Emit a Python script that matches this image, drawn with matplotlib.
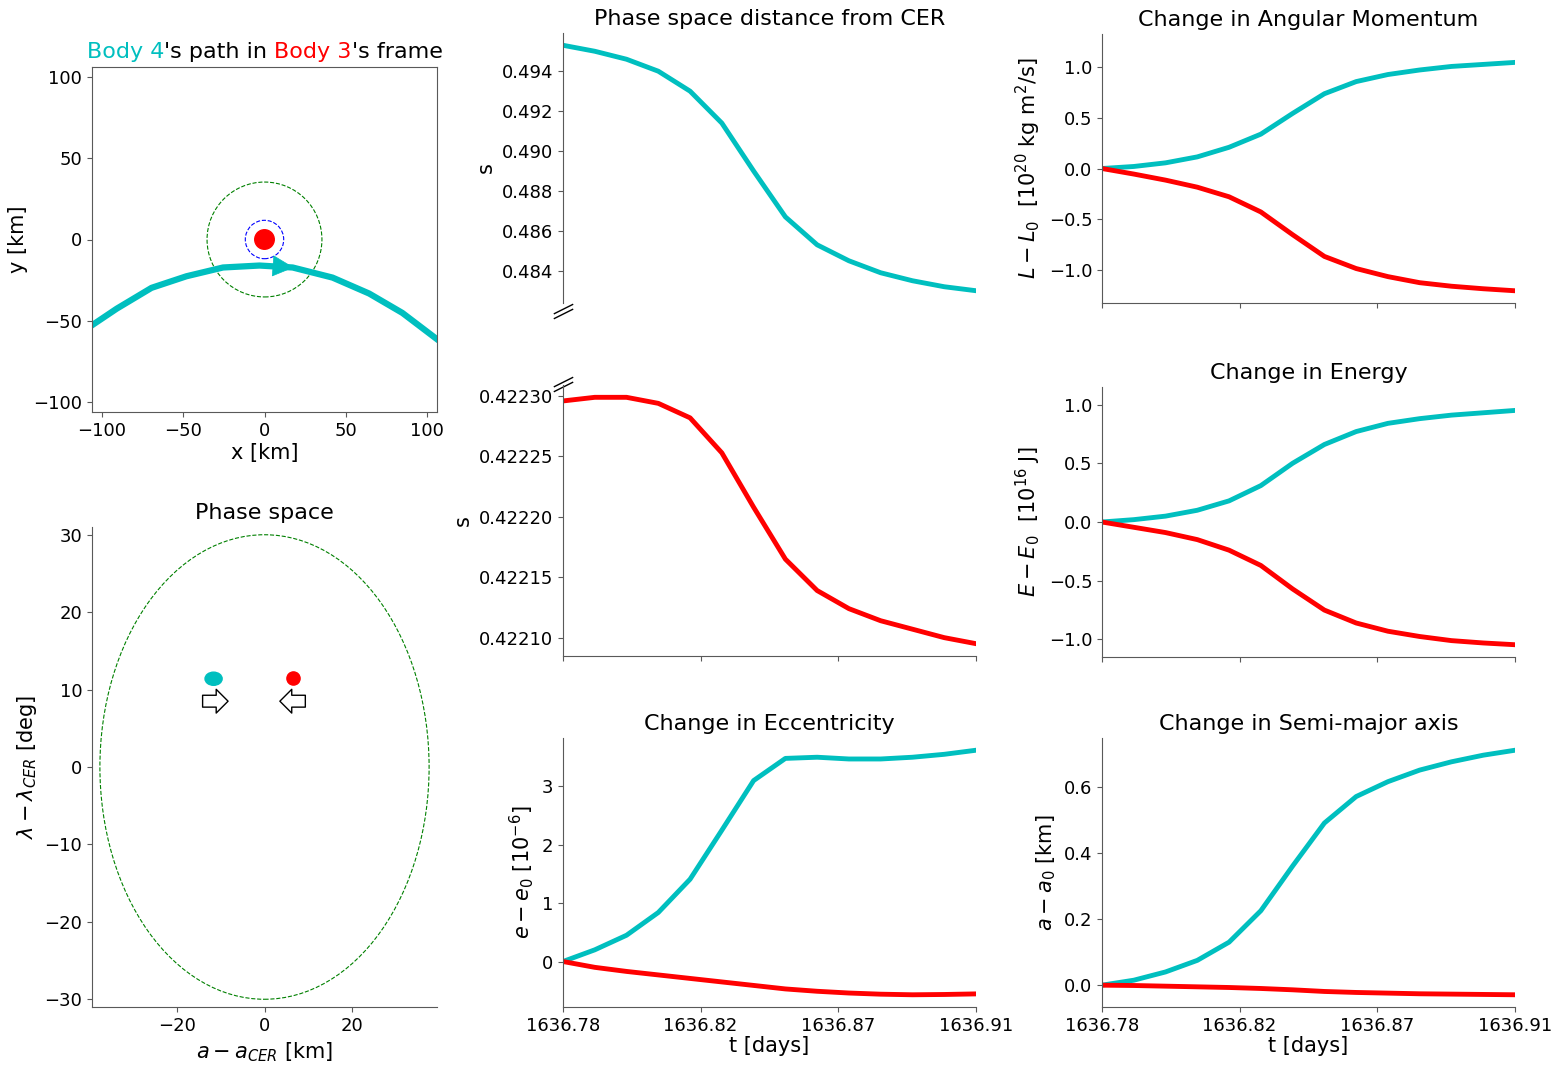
import numpy as np
import matplotlib
matplotlib.use('Agg')
import matplotlib.pyplot as plt
from matplotlib.patches import Circle, Ellipse
from matplotlib.path import Path

# ---- data ----
# body 4 path in body 3's frame [km]
path_x = [-106, -90.8, -69.4, -48.0, -25.5, -3.1, 17.3, 41.8, 64.3, 84.7, 105.5]
path_y = [-52.7, -42.5, -29.7, -22.6, -17.2, -16.0, -17.2, -23.4, -33.2, -45.1, -60.9]
r_body = 6.0
r_blue = 11.8
r_green = 35.3

# phase space positions (a - a_CER [km], lambda - lambda_CER [deg])
cer_half_a = 37.5
cer_half_lam = 30.0
body4_pos = (-11.6, 11.4)
body3_pos = (6.4, 11.5)

# time series
t = [1636.78, 1636.79, 1636.80, 1636.81, 1636.82, 1636.83, 1636.84,
     1636.85, 1636.86, 1636.87, 1636.88, 1636.89, 1636.90, 1636.91]
t_ticks = [1636.78, 1636.8233, 1636.8667, 1636.91]
t_labels = ['1636.78', '1636.82', '1636.87', '1636.91']

s4 = [0.4953, 0.4950, 0.4946, 0.4940, 0.4930, 0.4914, 0.4890,
      0.4867, 0.4853, 0.4845, 0.4839, 0.4835, 0.4832, 0.4830]
s3 = [0.422296, 0.422299, 0.422299, 0.422294, 0.422282, 0.422253, 0.422208,
      0.422165, 0.422139, 0.422124, 0.422114, 0.422107, 0.422100, 0.422095]

dL4 = [0, 0.02, 0.056, 0.115, 0.21, 0.34, 0.545, 0.74, 0.86, 0.93, 0.975, 1.01, 1.03, 1.05]
dL3 = [0, -0.055, -0.115, -0.185, -0.28, -0.43, -0.655, -0.87, -0.99, -1.07, -1.13, -1.165, -1.19, -1.21]

dE4 = [0, 0.02, 0.05, 0.10, 0.18, 0.31, 0.50, 0.66, 0.77, 0.84, 0.88, 0.91, 0.93, 0.95]
dE3 = [0, -0.045, -0.09, -0.15, -0.24, -0.37, -0.57, -0.75, -0.86, -0.93, -0.975, -1.01, -1.03, -1.045]

de4 = [0, 0.2, 0.45, 0.84, 1.41, 2.25, 3.1, 3.48, 3.5, 3.47, 3.47, 3.5, 3.55, 3.62]
de3 = [0, -0.1, -0.17, -0.23, -0.29, -0.35, -0.41, -0.47, -0.51, -0.54, -0.56, -0.57, -0.565, -0.555]

da4 = [0, 0.015, 0.04, 0.075, 0.13, 0.225, 0.36, 0.49, 0.57, 0.615, 0.65, 0.675, 0.695, 0.71]
da3 = [0, -0.001, -0.003, -0.005, -0.007, -0.01, -0.014, -0.019, -0.022, -0.024, -0.026, -0.027, -0.028, -0.029]

C4 = 'c'
C3 = 'r'
LW = 3.5

plt.rcParams['xtick.labelsize'] = 13
plt.rcParams['ytick.labelsize'] = 13
plt.rcParams['axes.labelsize'] = 15
plt.rcParams['axes.titlesize'] = 16
plt.rcParams['axes.edgecolor'] = '0.35'
plt.rcParams['xtick.color'] = '0.35'
plt.rcParams['ytick.color'] = '0.35'
plt.rcParams['xtick.labelcolor'] = 'k'
plt.rcParams['ytick.labelcolor'] = 'k'

W, H = 1565, 1089
fig = plt.figure(figsize=(W / 100, H / 100), dpi=100)


def px_axes(x0, y0, x1, y1):
    return fig.add_axes([x0 / W, 1 - y1 / H, (x1 - x0) / W, (y1 - y0) / H])


def open_spines(ax):
    ax.spines['top'].set_visible(False)
    ax.spines['right'].set_visible(False)


# ---- Body 4's path in Body 3's frame ----
ax = px_axes(92, 67, 437, 412)
ax_path = ax
ax.plot(path_x, path_y, color=C4, lw=LW + 1)
ax.annotate('', xy=(18, -17.2), xytext=(5, -16.2),
            arrowprops=dict(arrowstyle='-|>', color=C4, lw=0.5, mutation_scale=36,
                            shrinkA=0, shrinkB=0))
ax.add_patch(Circle((0, 0), r_body, color=C3))
ax.add_patch(Circle((0, 0), r_blue, fill=False, ls='--', ec='b', lw=0.8))
ax.add_patch(Circle((0, 0), r_green, fill=False, ls='--', ec='g', lw=0.8))
ax.set_xlim(-106, 106)
ax.set_ylim(-106, 106)
ax.set_xticks([-100, -50, 0, 50, 100])
ax.set_yticks([-100, -50, 0, 50, 100])
ax.set_xlabel('x [km]', labelpad=2)
ax.set_ylabel('y [km]')

# coloured title
parts = [("Body 4", C4), ("'s path in ", 'k'), ("Body 3", C3), ("'s frame", 'k')]
first = ax_path.text(0, 1 - 62 / H, parts[0][0], color=parts[0][1], fontsize=16,
                     va='bottom', transform=fig.transFigure)
prev = first
pieces = [first]
for txt, col in parts[1:]:
    prev = ax_path.annotate(txt, xy=(1, 0), xycoords=prev, color=col, fontsize=16,
                            va='bottom', ha='left', annotation_clip=False)
    pieces.append(prev)
fig.canvas.draw()
r = fig.canvas.get_renderer()
x_left = pieces[0].get_window_extent(r).x0
x_right = pieces[-1].get_window_extent(r).x1
center = (92 + 437) / 2
first.set_x((center - (x_right - x_left) / 2) / W)

# ---- Phase space ----
ax = px_axes(92, 527, 437, 1007)
open_spines(ax)
ax.add_patch(Ellipse((0, 0), 2 * cer_half_a, 2 * cer_half_lam, fill=False,
                     ls='--', ec='g', lw=0.8))
ax.add_patch(Ellipse(body4_pos, 3.9, 1.7, color=C4))
ax.plot([body3_pos[0]], [body3_pos[1]], 'o', color=C3, ms=9.5)
arrow_kw = dict(arrowstyle='simple,head_length=0.45,head_width=0.9,tail_width=0.45',
                fc='w', ec='k', lw=1, mutation_scale=19, shrinkA=0, shrinkB=0)
ax.annotate('', xy=(-8.3, 8.5), xytext=(-14.1, 8.5), arrowprops=arrow_kw)
ax.annotate('', xy=(3.5, 8.5), xytext=(9.3, 8.5), arrowprops=arrow_kw)
ax.set_xlim(-39.3, 39.3)
ax.set_ylim(-31, 31)
ax.set_xticks([-20, 0, 20])
ax.set_yticks([-30, -20, -10, 0, 10, 20, 30])
ax.set_title('Phase space')
ax.set_xlabel(r'$a - a_{CER}$ [km]')
ax.set_ylabel(r'$\lambda - \lambda_{CER}$ [deg]')

# ---- Phase space distance (broken axis) ----
brk = Path([(-1, -0.75), (1, 0.25), (-1, -0.25), (1, 0.75)],
           [Path.MOVETO, Path.LINETO, Path.MOVETO, Path.LINETO])

ax_top = px_axes(563, 33, 976, 303)
ax_top.plot(t, s4, color=C4, lw=LW)
for sp in ['top', 'right', 'bottom']:
    ax_top.spines[sp].set_visible(False)
ax_top.set_xticks([])
ax_top.set_xlim(t[0], t[-1])
ax_top.set_title('Phase space distance from CER')
ax_top.set_ylabel('s')
ax_top.plot([0], [-0.03], transform=ax_top.transAxes, marker=brk, ms=14,
            ls='none', color='k', mew=1, clip_on=False)

ax_mid = px_axes(563, 385, 976, 656)
ax_mid.plot(t, s3, color=C3, lw=LW)
open_spines(ax_mid)
ax_mid.set_xlim(t[0], t[-1])
ax_mid.set_xticks(t_ticks)
ax_mid.set_xticklabels([])
ax_mid.ticklabel_format(axis='y', useOffset=False)
ax_mid.set_yticks([0.42210, 0.42215, 0.42220, 0.42225, 0.42230])
ax_mid.set_yticklabels(['0.42210', '0.42215', '0.42220', '0.42225', '0.42230'])
ax_mid.set_ylabel('s')
ax_mid.plot([0], [1.005], transform=ax_mid.transAxes, marker=brk, ms=14,
            ls='none', color='k', mew=1, clip_on=False)


def series_axes(box, y4, y3, title, ylabel, xlabels, sym=False):
    ax = px_axes(*box)
    ax.plot(t, y4, color=C4, lw=LW)
    ax.plot(t, y3, color=C3, lw=LW)
    open_spines(ax)
    ax.set_xlim(t[0], t[-1])
    ax.set_xticks(t_ticks)
    if xlabels:
        ax.set_xticklabels(t_labels)
        ax.set_xlabel('t [days]', labelpad=1)
    else:
        ax.set_xticklabels([])
    if sym:
        m = 1.1 * max(np.max(np.abs(y4)), np.max(np.abs(y3)))
        ax.set_ylim(-m, m)
    if title:
        ax.set_title(title)
    ax.set_ylabel(ylabel)
    return ax


series_axes((563, 738, 976, 1007), de4, de3, 'Change in Eccentricity',
            r'$e - e_0\ [10^{-6}]$', True)
series_axes((1102, 34, 1515, 303), dL4, dL3, 'Change in Angular Momentum',
            r'$L - L_0$  [$10^{20}$ kg m$^2$/s]', False, sym=True)
series_axes((1102, 387, 1515, 657), dE4, dE3, 'Change in Energy',
            r'$E - E_0$  [$10^{16}$ J]', False, sym=True)
series_axes((1102, 738, 1515, 1007), da4, da3, 'Change in Semi-major axis',
            r'$a - a_0$ [km]', True)

fig.savefig('out.png', dpi=100)
